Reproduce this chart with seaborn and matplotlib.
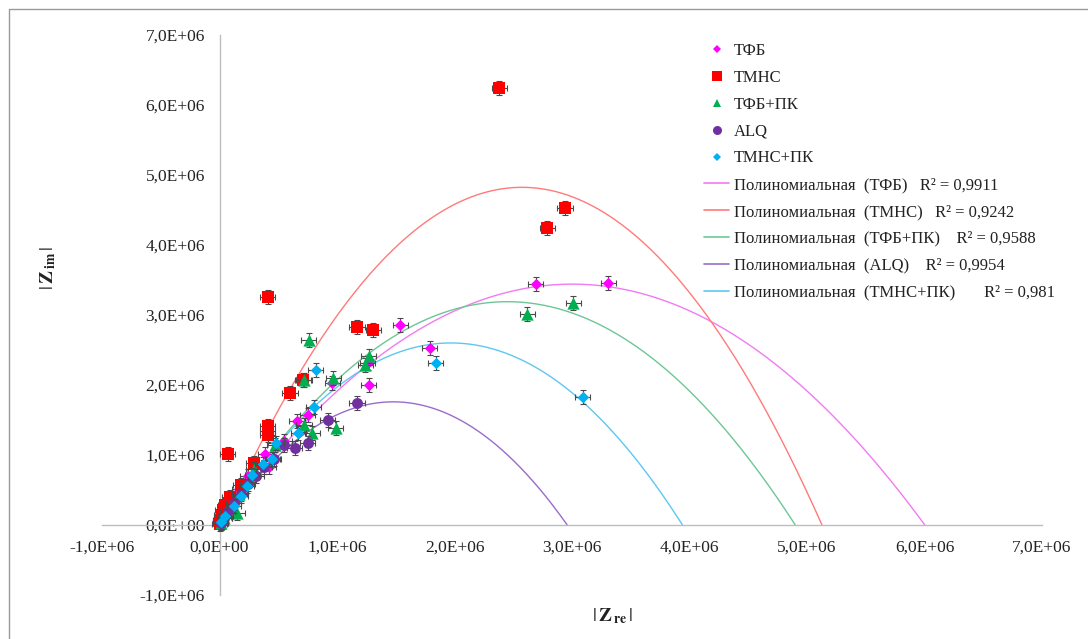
import numpy as np
import pandas as pd
import matplotlib
matplotlib.use("Agg")
import matplotlib.pyplot as plt
from matplotlib.lines import Line2D
from matplotlib.ticker import FuncFormatter, MultipleLocator
import seaborn as sns

# ---- data (impedance components, units of 1e6 Ohm) ----
series = ["ТФБ", "ТМНС", "ТФБ+ПК", "ALQ", "ТМНС+ПК"]

tfb_re = [3.31, 2.69, 1.54, 1.79, 1.27, 1.26, 0.96, 0.75, 0.66, 0.55, 0.39, 0.42, 0.24, 0.17, 0.11, 0.06, 0.03, 0.01]
tfb_im = [3.46, 3.44, 2.86, 2.53, 2.00, 2.31, 2.03, 1.57, 1.49, 1.20, 1.01, 0.83, 0.70, 0.52, 0.37, 0.24, 0.12, 0.04]

tmns_re = [2.38, 2.94, 2.79, 0.41, 1.17, 1.31, 0.71, 0.60, 0.41, 0.41, 0.41, 0.07, 0.29, 0.18, 0.09, 0.05, 0.03, 0.02, 0.01, 0.00]
tmns_im = [6.24, 4.53, 4.24, 3.26, 2.83, 2.79, 2.07, 1.89, 1.41, 1.34, 1.28, 1.01, 0.89, 0.57, 0.40, 0.29, 0.21, 0.14, 0.07, 0.02]

tfbpk_re = [3.01, 2.62, 0.76, 1.27, 1.24, 0.97, 0.72, 0.72, 0.79, 0.99, 0.47, 0.29, 0.17, 0.15, 0.04, 0.01]
tfbpk_im = [3.17, 3.01, 2.64, 2.41, 2.28, 2.10, 2.07, 1.43, 1.31, 1.39, 1.15, 0.80, 0.45, 0.17, 0.10, 0.03]

alq_re = [1.17, 0.92, 0.75, 0.64, 0.55, 0.46, 0.38, 0.31, 0.24, 0.18, 0.12, 0.07, 0.04, 0.01]
alq_im = [1.74, 1.50, 1.17, 1.10, 1.15, 0.94, 0.83, 0.70, 0.58, 0.44, 0.31, 0.20, 0.10, 0.03]

tmnspk_re = [3.09, 1.84, 0.82, 0.80, 0.67, 0.48, 0.45, 0.37, 0.28, 0.23, 0.18, 0.12, 0.05, 0.01]
tmnspk_im = [1.83, 2.31, 2.21, 1.69, 1.31, 1.17, 0.94, 0.87, 0.72, 0.56, 0.41, 0.27, 0.13, 0.04]

# measurement uncertainty (units of 1e6 Ohm)
err_re = 0.065
err_im = 0.10

# second-order polynomial trend lines: [c2, c1, c0], x and y in units of 1e6 Ohm
tfb_fit = [-0.382, 2.293, 0.0]
tmns_fit = [-0.740, 3.810, -0.08]
tfbpk_fit = [-0.5314, 2.604, 0.0]
alq_fit = [-0.8035, 2.378, 0.0]
tmnspk_fit = [-0.670, 2.640, 0.0]

r2_values = ["0,9911", "0,9242", "0,9588", "0,9954", "0,981"]

SCALE = 1e6

re_lists = [tfb_re, tmns_re, tfbpk_re, alq_re, tmnspk_re]
im_lists = [tfb_im, tmns_im, tfbpk_im, alq_im, tmnspk_im]
fits = [tfb_fit, tmns_fit, tfbpk_fit, alq_fit, tmnspk_fit]

df = pd.concat(
    [pd.DataFrame({"series": s, "re": np.array(r) * SCALE, "im": np.array(i) * SCALE})
     for s, r, i in zip(series, re_lists, im_lists)],
    ignore_index=True,
)

# ---- styling ----
marker_colors = ["#FF00FF", "#FF0000", "#00B050", "#7030A0", "#00B0F0"]
trend_colors = ["#F27AF2", "#FF7A7A", "#6CC796", "#9A6CC8", "#5CC8F2"]
markers = ["D", "s", "^", "o", "D"]
marker_area = [34, 72, 78, 62, 34]
legend_msize = [4.2, 7.0, 6.0, 6.5, 4.2]

sns.set_style("white")
plt.rcParams["font.family"] = ["Liberation Serif", "DejaVu Serif"]
plt.rcParams["mathtext.fontset"] = "stix"

fig = plt.figure(figsize=(10.88, 6.39), dpi=100)
ax = fig.add_axes([102 / 1088, 1 - 595 / 639, 940 / 1088, 560 / 639])

# trend lines
for k, (coef, col) in enumerate(zip(fits, trend_colors)):
    lo, hi = np.sort(np.real(np.roots(coef)))
    xs = np.linspace(lo, hi, 400)
    curve = pd.DataFrame({"re": xs * SCALE, "im": np.polyval(coef, xs) * SCALE})
    sns.lineplot(data=curve, x="re", y="im", color=col, linewidth=1.0,
                 ax=ax, zorder=2, sort=False, estimator=None)

# measured points with error bars
for k, s in enumerate(series):
    sub = df[df["series"] == s]
    ax.errorbar(sub["re"], sub["im"], xerr=err_re * SCALE, yerr=err_im * SCALE,
                fmt="none", ecolor="#4a4a4a", elinewidth=0.8, capsize=2.3,
                capthick=0.8, zorder=3 + k * 0.1)
    sns.scatterplot(data=sub, x="re", y="im", color=marker_colors[k],
                    marker=markers[k], s=marker_area[k], linewidth=0,
                    ax=ax, zorder=3.05 + k * 0.1, legend=False)

# axes crossing at the origin
ax.set_xlim(-1 * SCALE, 7 * SCALE)
ax.set_ylim(-1 * SCALE, 7 * SCALE)
ax.xaxis.set_major_locator(MultipleLocator(SCALE))
ax.yaxis.set_major_locator(MultipleLocator(SCALE))
fmt = FuncFormatter(lambda v, p: f"{v:.1E}".replace(".", ","))
ax.xaxis.set_major_formatter(fmt)
ax.yaxis.set_major_formatter(fmt)

for side in ["top", "right"]:
    ax.spines[side].set_visible(False)
ax.spines["left"].set_position(("data", 0))
ax.spines["bottom"].set_position(("data", 0))
for side in ["left", "bottom"]:
    ax.spines[side].set_color("#BDBDBD")
    ax.spines[side].set_linewidth(1.0)

ax.tick_params(axis="both", which="major", direction="out", length=3.5,
               width=0.8, color="#BDBDBD", labelsize=12.5, labelcolor="#222222")
ax.tick_params(axis="x", pad=7)
ax.tick_params(axis="y", pad=7)
ax.grid(False)

ax.set_xlabel(r"$|\,\mathbf{Z}_{\,\mathbf{re}}\,|$", fontsize=14, color="#222222")
ax.set_ylabel(r"$|\,\mathbf{Z}_{\,\mathbf{im}}\,|$", fontsize=14, color="#222222")
ax.xaxis.label.set(va="center", ha="center")
ax.yaxis.label.set(va="center", ha="center")
ax.xaxis.set_label_coords((613 - 102) / 940, (595 - 616) / 560)
ax.yaxis.set_label_coords((48 - 102) / 940, (595 - 268) / 560)

# legend: marker entries followed by trend-line entries
handles, labels = [], []
for k, s in enumerate(series):
    handles.append(Line2D([], [], linestyle="none", marker=markers[k],
                          markersize=legend_msize[k], markerfacecolor=marker_colors[k],
                          markeredgewidth=0))
    labels.append(s)
gaps = ["   ", "   ", "    ", "    ", "       "]
for k, s in enumerate(series):
    handles.append(Line2D([], [], color=trend_colors[k], linewidth=1.2))
    labels.append(f"Полиномиальная  ({s}){gaps[k]}R² = {r2_values[k]}")

fig.legend(handles, labels, loc="upper left",
           bbox_to_anchor=(704 / 1088, 1 - 43 / 639), frameon=False,
           fontsize=12, handlelength=1.5, handletextpad=0.3,
           labelspacing=0.65, borderpad=0, borderaxespad=0,
           labelcolor="#222222")

# outer chart frame
frame_kw = dict(color="#9A9A9A", linewidth=1.0, transform=fig.transFigure)
fig.add_artist(Line2D([9 / 1088, 9 / 1088], [0, 1 - 9 / 639], **frame_kw))
fig.add_artist(Line2D([9 / 1088, 1], [1 - 9 / 639, 1 - 9 / 639], **frame_kw))

fig.savefig("out.png", dpi=100)
